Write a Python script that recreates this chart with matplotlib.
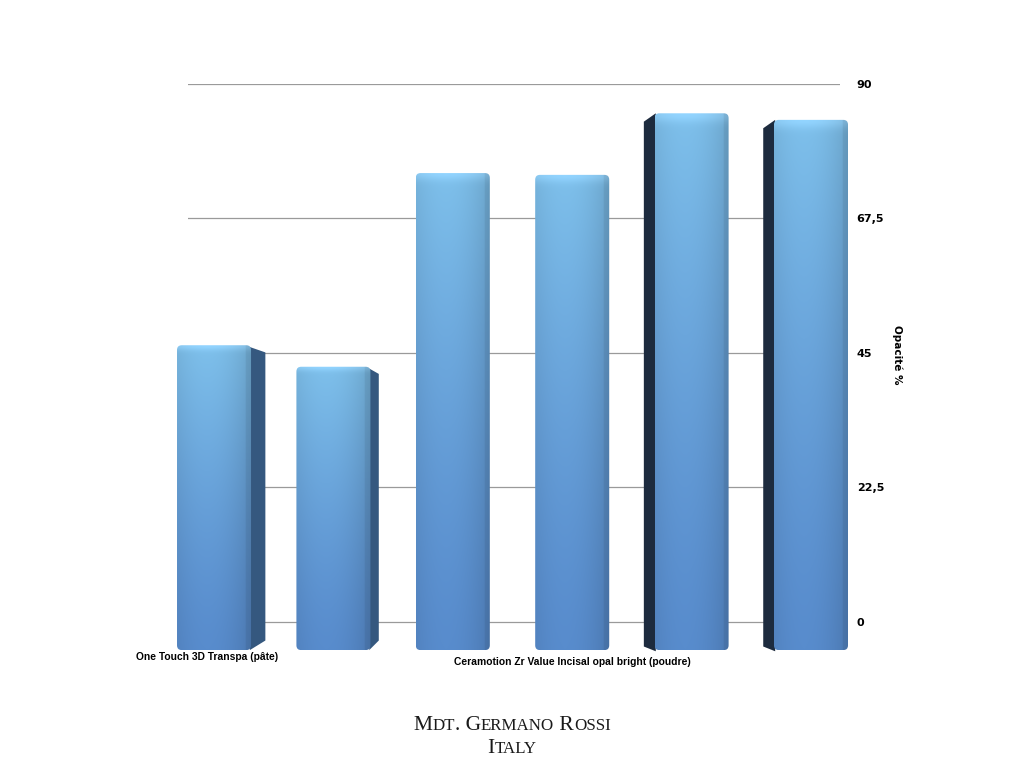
import numpy as np
import matplotlib.pyplot as plt
from matplotlib.patches import FancyBboxPatch, Polygon

# data
categories = ['One Touch 3D Transpa (pâte)', '', '',
              'Ceramotion Zr Value Incisal opal bright (poudre)', '', '']
opacity = [46.3, 42.7, 75.1, 74.8, 85.1, 84.0]
yticks = [0, 22.5, 45, 67.5, 90]
ytick_labels = ['0', '22,5', '45', '67,5', '90']

FLOOR = -4.7          # front edge of the 3D floor
BAR_W = 0.62
SIDE = [0.12, 0.07, 0.0, 0.0, -0.09, -0.09]   # perspective side faces
TOP = np.array([0x7e, 0xc0, 0xeb]) / 255
BOT = np.array([0x58, 0x8c, 0xcd]) / 255

fig = plt.figure(figsize=(10.24, 7.68), dpi=100)
ax = fig.add_axes([188 / 1024, 1 - 670 / 768, 652 / 1024, 586 / 768])
ax.set_xlim(-0.218, 5.243)
ax.set_ylim(-8.03, 90)

for v in yticks:
    ax.axhline(v, color='#9a9a9a', lw=0.9, zorder=0)

aspect = (119.4 / 5.978)
for i, v in enumerate(opacity):
    x0, x1 = i - BAR_W / 2, i + BAR_W / 2
    d = SIDE[i]
    if d > 0:
        side = Polygon([(x1 - 0.01, v - 0.3), (x1 + d, v - 1.2), (x1 + d, FLOOR + 1.6),
                        (x1 - 0.01, FLOOR)], closed=True, fc='#35587f', ec='none',
                       zorder=2, clip_on=False)
        ax.add_patch(side)
    elif d < 0:
        side = Polygon([(x0 + 0.01, v), (x0 + d, v - 1.4), (x0 + d, FLOOR + 0.6),
                        (x0 + 0.01, FLOOR - 0.2)], closed=True, fc='#1d2b3e', ec='none',
                       zorder=2, clip_on=False)
        ax.add_patch(side)
    box = FancyBboxPatch((x0, FLOOR), BAR_W, v - FLOOR,
                         boxstyle='round,pad=0,rounding_size=0.04',
                         mutation_aspect=aspect, fc='none', ec='none', zorder=3,
                         clip_on=False)
    ax.add_patch(box)
    t = np.linspace(1, 0, 200)[:, None]
    u = np.linspace(0, 1, 60)[None, :]
    shade = 1 - 0.10 * np.abs(2 * u - 0.8) ** 2 - 0.06 * (u > 0.93)
    rim = 0.08 * np.exp(-((1 - t) * 200 / 3.0) ** 2)
    img = BOT + (TOP - BOT) * (t ** 1.3)[..., None]
    img = img * shade[..., None] + rim[..., None]
    img = np.clip(img, 0, 1)
    im = ax.imshow(img, extent=[x0, x1, FLOOR, v], aspect='auto', zorder=3,
                   interpolation='bilinear')
    im.set_clip_box(fig.bbox)
    im.set_clip_path(box)

ax.set_xlim(-0.218, 5.243)
ax.set_ylim(-8.03, 90)

ax.yaxis.tick_right()
ax.set_yticks(yticks)
ax.set_yticklabels(ytick_labels, fontsize=8, fontweight='bold')
ax.tick_params(axis='y', length=0, pad=12)
ax.set_xticks([])
for s in ax.spines.values():
    s.set_visible(False)

fig.text(897 / 1024, 1 - 355 / 768, 'Opacité %', rotation=-90, ha='center', va='center',
         fontsize=7.5, fontweight='bold')

ax.text(-0.06, -5.9, categories[0], ha='center', va='center', fontsize=7.4,
        fontweight='bold', family='Liberation Sans', clip_on=False)
ax.text(3, -6.7, categories[3], ha='center', va='center', fontsize=7.4,
        fontweight='bold', family='Liberation Sans', clip_on=False)


def small_caps(s, cx, base_y, big, small):
    r = fig.canvas.get_renderer()
    parts = []
    for ch in s:
        size = big if (ch.isupper() or not ch.isalpha()) else small
        if parts and parts[-1][1] == size:
            parts[-1][0] += ch.upper()
        else:
            parts.append([ch.upper(), size])
    widths = []
    for txt, size in parts:
        probe = fig.text(0, 0, '|' + txt + '|', fontsize=size, family='Liberation Serif')
        bar = fig.text(0, 0, '||', fontsize=size, family='Liberation Serif')
        widths.append(probe.get_window_extent(r).width - bar.get_window_extent(r).width)
        probe.remove(); bar.remove()
    x = cx - sum(widths) / 2
    for (txt, size), w in zip(parts, widths):
        fig.text(x / 1024, 1 - base_y / 768, txt, fontsize=size, family='Liberation Serif',
                 va='baseline', ha='left', color='#1a1a1a')
        x += w


small_caps('Mdt. Germano Rossi', 512, 730, 15.5, 12.2)
small_caps('Italy', 512, 753, 15.5, 12.2)

fig.savefig('out.png', dpi=100)
